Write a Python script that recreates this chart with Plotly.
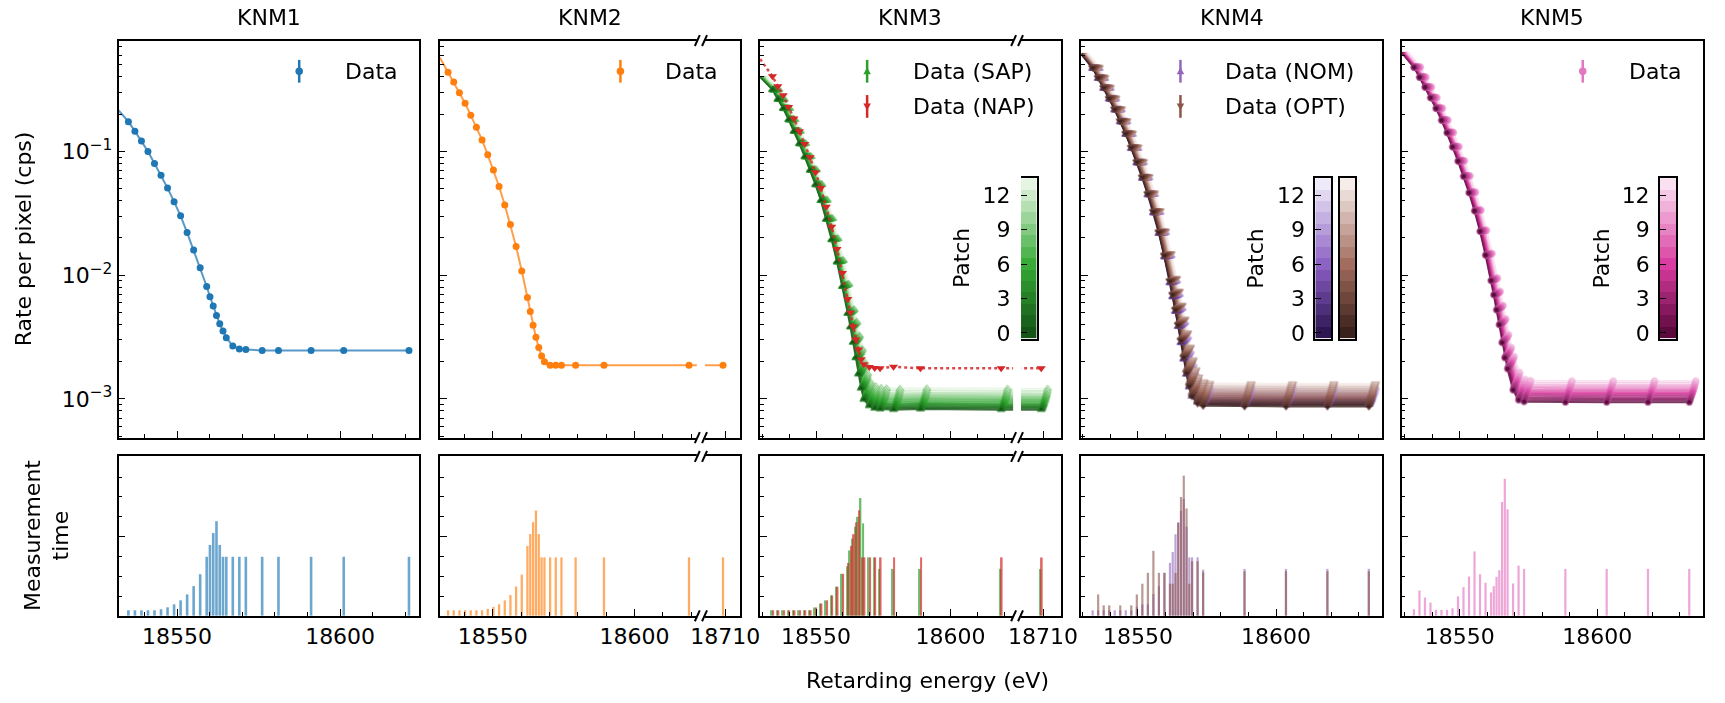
import plotly.graph_objects as go

W, H = 1725, 703
FONT = "DejaVu Sans"

# ------------------------------------------------------------------ data
# KNM1
knm1_x = [18535.1, 18537.1, 18539.1, 18541.1, 18543.1, 18545.1, 18547.1, 18549.1, 18551.1,
          18553.1, 18555.1, 18557.1, 18559.1, 18560.1, 18561.1, 18562.1, 18563.1, 18564.1,
          18565.1, 18567.1, 18569.1, 18571.1, 18576.1, 18581.1, 18591.1, 18601.1, 18621.1]
knm1_rate = [0.174, 0.146, 0.1217, 0.100, 0.0801, 0.0643, 0.0506, 0.0393, 0.0302, 0.0221,
             0.0160, 0.0115, 0.00811, 0.0067, 0.00565, 0.00472, 0.00405, 0.00354, 0.00313,
             0.00268, 0.00254, 0.00251, 0.00247, 0.00247, 0.00247, 0.00247, 0.00247]
knm1_edge = [18532.1, 0.215]
knm1_time = [0.28, 0.28, 0.28, 0.28, 0.28, 0.33, 0.43, 0.58, 0.78, 1.08, 1.5, 2.1, 2.98, 3.58,
             4.18, 4.78, 3.58, 2.98, 2.98, 2.98, 2.98, 2.98, 2.98, 2.98, 2.98, 2.98, 2.98]

# KNM2
knm2_x = [18534.2, 18536.2, 18538.2, 18540.2, 18542.2, 18544.2, 18546.2, 18548.2, 18550.2,
          18552.2, 18554.2, 18556.2, 18558.2, 18560.2, 18562.2, 18563.2, 18564.2, 18565.2,
          18566.2, 18567.2, 18568.2, 18570.2, 18572.2, 18574.2, 18579.2, 18589.2, 18619.2, 18709.2]
knm2_rate = [0.436, 0.365, 0.298, 0.245, 0.196, 0.157, 0.124, 0.094, 0.0709, 0.0521, 0.037,
             0.0257, 0.0171, 0.0108, 0.00662, 0.00509, 0.00395, 0.00315, 0.00261, 0.00222,
             0.0020, 0.00187, 0.00187, 0.00187, 0.00187, 0.00187, 0.00187, 0.00187]
knm2_edge = [18531.3, 0.575]
knm2_time = [0.28, 0.28, 0.28, 0.28, 0.28, 0.28, 0.28, 0.35, 0.45, 0.58, 0.78, 1.05, 1.48, 2.08,
             3.53, 4.13, 4.73, 5.32, 4.13, 2.95, 2.95, 2.95, 2.95, 2.95, 2.95, 2.95, 2.95, 2.95]

# Patch-wise spectra (KNM3 SAP, KNM4, KNM5): each of the 14 patches is the common
# background-free signal plus its own background, drawn at its own energy offset.
patch_shift_ev = [0.0, 0.18, 0.37, 0.55, 0.74, 0.92, 1.11, 1.29, 1.48, 1.66, 1.85, 2.03, 2.22, 2.40]

# KNM3
knm3_x = [18533.8, 18535.8, 18537.8, 18539.8, 18541.8, 18543.8, 18545.8, 18547.8, 18549.8,
          18551.8, 18553.8, 18555.8, 18557.8, 18559.8, 18561.8, 18562.8, 18563.8, 18564.8,
          18565.8, 18566.8, 18567.8, 18569.8, 18571.8, 18573.8, 18578.8, 18588.8, 18618.8, 18709.3]
knm3_sap_signal = [0.315, 0.264, 0.222, 0.180, 0.145, 0.115, 0.090, 0.070, 0.0532, 0.0394,
                   0.0276, 0.0186, 0.0120, 0.0073, 0.0041, 0.0030, 0.00205, 0.00133, 0.00077,
                   0.0004, 0.00017, 0.00006, 0.00002, 0.00001, 0.0, 0.00001, 0.0, 0.0]
knm3_sap_edge = [18529.2, 0.40]
knm3_sap_bkg = [0.00082, 0.00084, 0.00086, 0.00088, 0.00090, 0.00092, 0.00095, 0.00098,
                0.00101, 0.00104, 0.00107, 0.00111, 0.00116, 0.00121]
knm3_nap_rate = [0.405, 0.337, 0.284, 0.229, 0.185, 0.146, 0.115, 0.090, 0.0679, 0.0508,
                 0.0358, 0.0246, 0.0163, 0.0104, 0.00642, 0.00499, 0.00386, 0.00302, 0.00251,
                 0.00209, 0.00191, 0.00181, 0.00178, 0.00177, 0.00182, 0.00177, 0.00177, 0.00177]
knm3_nap_edge = [18529.2, 0.558]
knm3_sap_time = [0.28, 0.28, 0.28, 0.28, 0.28, 0.28, 0.28, 0.28, 0.42, 0.62, 0.78, 1.03, 1.47,
                 2.12, 2.5, 3.3, 3.9, 4.5, 5.0, 5.95, 4.67, 2.95, 2.95, 2.37, 2.37, 2.37, 2.37, 2.37]
knm3_nap_time = [0.28, 0.28, 0.28, 0.28, 0.28, 0.28, 0.28, 0.28, 0.42, 0.62, 0.78, 1.03, 1.47,
                 2.12, 2.67, 3.53, 4.12, 4.72, 5.33, 2.95, 2.95, 2.95, 2.95, 2.95, 2.95, 2.95, 2.95, 2.95]

# KNM4 (NOM and OPT)
knm4_x = [18533.6, 18535.6, 18537.6, 18539.6, 18541.6, 18543.6, 18545.6, 18547.6, 18549.6,
          18551.6, 18553.6, 18555.6, 18557.6, 18559.6, 18561.6, 18562.6, 18563.6, 18564.6,
          18565.6, 18566.6, 18567.6, 18568.6, 18569.6, 18571.6, 18573.6, 18588.6, 18603.6,
          18618.6, 18633.6]
knm4_nom_signal = [0.469, 0.389, 0.324, 0.265, 0.216, 0.173, 0.137, 0.105, 0.0801, 0.0601,
                   0.0439, 0.0311, 0.0209, 0.0132, 0.0078, 0.0058, 0.0042, 0.00295, 0.00195,
                   0.0012, 0.00068, 0.00035, 0.00015, 0.00004, 0.00001, 0.0, 0.0, 0.0, 0.0]
knm4_opt_signal = [0.475, 0.395, 0.328, 0.268, 0.219, 0.175, 0.139, 0.107, 0.0815, 0.0612,
                   0.0447, 0.0318, 0.0214, 0.0136, 0.0081, 0.0061, 0.0044, 0.0031, 0.0021,
                   0.0013, 0.00075, 0.0004, 0.00018, 0.00005, 0.00001, 0.0, 0.0, 0.0, 0.0]
knm4_nom_edge = [18529.5, 0.61]
knm4_opt_edge = [18529.5, 0.62]
knm4_nom_bkg = [0.00090, 0.00092, 0.00094, 0.00096, 0.00098, 0.00100, 0.00102, 0.00105,
                0.00108, 0.00111, 0.00114, 0.00117, 0.00121, 0.00125]
knm4_opt_bkg = [0.00087, 0.00090, 0.00093, 0.00096, 0.00099, 0.00102, 0.00105, 0.00109,
                0.00113, 0.00117, 0.00121, 0.00125, 0.00129, 0.00133]
knm4_nom_time = [0.28, 0.28, 0.28, 0.28, 0.28, 0.28, 0.28, 0.28, 0.45, 0.58, 0.58, 1.1, 1.5,
                 2.17, 2.67, 3.22, 4.12, 4.72, 5.3, 5.9, 4.5, 2.95, 2.95, 2.95, 2.33, 2.37, 2.37,
                 2.37, 2.37]
knm4_opt_time = [0.0, 1.08, 0.53, 0.53, 0.0, 0.53, 0.0, 0.53, 1.08, 1.62, 2.17, 3.28, 2.17,
                 2.17, 1.62, 1.62, 2.17, 4.7, 6.0, 7.08, 5.42, 1.62, 2.75, 2.75, 2.2, 2.25, 2.25,
                 2.25, 2.25]

# KNM5
knm5_x = [18533.4, 18535.4, 18537.4, 18539.4, 18541.4, 18543.4, 18545.4, 18547.4, 18549.4,
          18551.4, 18553.4, 18555.4, 18557.4, 18559.4, 18561.4, 18562.4, 18563.4, 18564.4,
          18565.4, 18566.4, 18567.4, 18569.4, 18571.4, 18573.4, 18588.4, 18603.4, 18618.4, 18633.4]
knm5_signal = [0.478, 0.397, 0.330, 0.271, 0.222, 0.178, 0.141, 0.108, 0.0827, 0.0621, 0.0455,
               0.0322, 0.0217, 0.0136, 0.0081, 0.0060, 0.0043, 0.00304, 0.00191, 0.00121,
               0.00081, 0.00024, 0.00004, 0.00001, 0.0, 0.0, 0.0, 0.0]
knm5_edge = [18528.9, 0.63]
knm5_bkg = [0.00094, 0.00097, 0.00100, 0.00103, 0.00106, 0.00109, 0.00112, 0.00115, 0.00118,
            0.00122, 0.00126, 0.00130, 0.00135, 0.00140]
knm5_time = [0.33, 1.28, 0.92, 0.67, 0.3, 0.3, 0.3, 0.38, 0.98, 1.45, 1.98, 3.25, 2.1, 1.67,
             1.18, 1.5, 1.97, 2.3, 5.75, 6.92, 5.38, 1.63, 2.53, 2.37, 2.37, 2.37, 2.37, 2.37]

titles = ["KNM1", "KNM2", "KNM3", "KNM4", "KNM5"]
major_ticks = [18550, 18600]
break_tick = 18710
rate_ticks = [1e-3, 1e-2, 1e-1]
rate_ticktext = ["10<sup>\u22123</sup>", "10<sup>\u22122</sup>", "10<sup>\u22121</sup>"]
patch_ticks = [0, 3, 6, 9, 12]

# ------------------------------------------------------------------ style / layout helpers
C = dict(blue="#1f77b4", orange="#ff7f0e", green="#2ca02c", red="#d62728",
         purple="#9467bd", brown="#8c564b", pink="#e377c2")


def hx(c):
    c = c.lstrip("#")
    return [int(c[i:i + 2], 16) for i in (0, 2, 4)]


def mix(c1, c2, t):
    a, b = hx(c1), hx(c2)
    return "#" + "".join("%02x" % round(a[k] + (b[k] - a[k]) * t) for k in range(3))


def patch_colors(dark, mid, light, n=14):
    out = []
    for i in range(n):
        t = i / (n - 1)
        out.append(mix(dark, mid, t / 0.45) if t < 0.45 else mix(mid, light, (t - 0.45) / 0.55))
    return out


CM_GREEN = patch_colors("#155417", "#35a935", "#e6f5e2")
CM_PURPLE = patch_colors("#2e1653", "#8b5fc4", "#efeaf7")
CM_BROWN = patch_colors("#3a211b", "#a06a5c", "#f6ece9")
CM_PINK = patch_colors("#5c0a3d", "#d93a9f", "#fae0f1")


def fx(p):
    return p / W


def fy(p):
    return 1 - p / H


cols = [(120, 424), (445, 749), (769, 1073), (1094, 1398), (1418, 1723)]
TOP = (41, 442)
BOT = (461, 622)
xranges = [[18532.1, 18624.2], [18531.3, 18637.3], [18529.2, 18640.9],
           [18529.5, 18638.3], [18528.9, 18638.4]]
# broken axes: shift of the far point and gap in pixels
breaks = {2: dict(shift=78.0, gap=(705, 713.3)), 3: dict(shift=75.6, gap=(1025, 1033))}


def cx(col, xs):
    if col in breaks:
        d = breaks[col]["shift"]
        return [x - d if x > 18660 else x for x in xs]
    return list(xs)


def aid(n):
    return "" if n == 1 else str(n)


fig = go.Figure()
LINE_W = 1.6


def add_line(col, xs, ys, color, width=2.0, dash="solid", opacity=0.75):
    fig.add_trace(go.Scatter(x=cx(col, xs), y=ys, mode="lines",
                             line=dict(color=color, width=width, dash=dash), opacity=opacity,
                             xaxis="x" + aid(col), yaxis="y" + aid(col), hoverinfo="skip"))


def add_marks(col, xs, ys, color, symbol, size=7, edge=None, opacity=1.0):
    fig.add_trace(go.Scatter(x=cx(col, xs), y=ys, mode="markers",
                             marker=dict(color=color, symbol=symbol, size=size,
                                         line=dict(color=edge or color, width=1 if edge else 0)),
                             opacity=opacity, xaxis="x" + aid(col), yaxis="y" + aid(col)))


def add_bars(col, xs, ys, color, width=0.8, offset=None, opacity=0.65):
    kw = dict(offset=offset) if offset is not None else {}
    fig.add_trace(go.Bar(x=cx(col, xs), y=ys, width=width, marker=dict(color=color, line=dict(width=0)),
                         opacity=opacity, xaxis="x" + aid(col + 5), yaxis="y" + aid(col + 5), **kw))


# ---------------- KNM1 / KNM2
add_line(1, [knm1_edge[0]] + knm1_x, [knm1_edge[1]] + knm1_rate, C["blue"])
add_marks(1, knm1_x, knm1_rate, C["blue"], "circle")
add_bars(1, knm1_x, knm1_time, C["blue"])

add_line(2, [knm2_edge[0]] + knm2_x, [knm2_edge[1]] + knm2_rate, C["orange"])
add_marks(2, knm2_x, knm2_rate, C["orange"], "circle")
add_bars(2, knm2_x, knm2_time, C["orange"])


# ---------------- multi-patch panels
def patches(xs, signal, edge, bkgs):
    out = []
    for i, b in enumerate(bkgs):
        d = patch_shift_ev[i]
        out.append(dict(x=[x + d for x in xs], y=[s + b for s in signal],
                        lx=[edge[0] + d] + [x + d for x in xs], ly=[edge[1] + b] + [s + b for s in signal]))
    return out


def add_patch_lines(col, pts, cmap):
    for i, p in enumerate(pts):          # dark first, light on top
        add_line(col, p["lx"], p["ly"], cmap[i], width=2.0, opacity=0.8)


def add_patch_marks(col, pts, cmap, base, symbol, size=6):
    for i in reversed(range(len(pts))):   # light first, dark on top
        add_marks(col, pts[i]["x"], pts[i]["y"], cmap[i], symbol, size=size,
                  edge=mix(cmap[i], base, 0.6), opacity=0.9)


p3 = patches(knm3_x, knm3_sap_signal, knm3_sap_edge, knm3_sap_bkg)
add_patch_lines(3, p3, CM_GREEN)
add_patch_marks(3, p3, CM_GREEN, C["green"], "triangle-up", size=7)
add_line(3, [knm3_nap_edge[0]] + knm3_x, [knm3_nap_edge[1]] + knm3_nap_rate, C["red"],
         width=2.5, dash="dot", opacity=0.85)
add_marks(3, knm3_x, knm3_nap_rate, C["red"], "triangle-down", size=8)
add_bars(3, knm3_x, knm3_sap_time, C["green"], width=0.6, offset=-0.55, opacity=0.7)
add_bars(3, knm3_x, knm3_nap_time, C["red"], width=0.6, offset=-0.05, opacity=0.7)

p4n = patches(knm4_x, knm4_nom_signal, knm4_nom_edge, knm4_nom_bkg)
p4o = patches(knm4_x, knm4_opt_signal, knm4_opt_edge, knm4_opt_bkg)
add_patch_lines(4, p4n, CM_PURPLE)
add_patch_lines(4, p4o, CM_BROWN)
add_patch_marks(4, p4n, CM_PURPLE, C["purple"], "triangle-up", size=7)
add_patch_marks(4, p4o, CM_BROWN, C["brown"], "triangle-down", size=7)
add_bars(4, knm4_x, knm4_nom_time, C["purple"], opacity=0.6)
add_bars(4, knm4_x, knm4_opt_time, C["brown"], opacity=0.6)

p5 = patches(knm5_x, knm5_signal, knm5_edge, knm5_bkg)
add_patch_lines(5, p5, CM_PINK)
add_patch_marks(5, p5, CM_PINK, C["pink"], "circle", size=6)
add_bars(5, knm5_x, knm5_time, C["pink"])

# ---------------- patch colour bars (heatmaps in inset axes)
cbars = [  # (axis number, x px range, colours, show labels)
    (11, (1032.7, 1048.7), CM_GREEN, True),
    (12, (1330.7, 1346.7), CM_PURPLE, True),
    (13, (1355.7, 1371.3), CM_BROWN, False),
    (14, (1679.3, 1696.0), CM_PINK, True),
]
CB_Y = (180, 342)
npatch = len(patch_shift_ev)
for n, _, cmap, _ in cbars:
    scale = []
    for i, c in enumerate(cmap):
        scale += [[i / npatch, c], [(i + 1) / npatch, c]]
    fig.add_trace(go.Heatmap(z=[[i] for i in range(npatch)], x=[0], y=list(range(npatch)),
                             zmin=-0.5, zmax=npatch - 0.5, colorscale=scale, showscale=False,
                             xaxis="x" + aid(n), yaxis="y" + aid(n), hoverinfo="skip"))

# ------------------------------------------------------------------ axes
lay = dict(width=W, height=H, margin=dict(l=0, r=0, t=0, b=0), paper_bgcolor="white",
           plot_bgcolor="white", showlegend=False, barmode="overlay",
           font=dict(family=FONT, size=22, color="black"))

log_minor = [k * 10 ** e for e in (-4, -3, -2, -1) for k in range(2, 10)]
common = dict(showline=True, mirror=True, linecolor="black", linewidth=LINE_W, showgrid=False,
              zeroline=False, ticks="inside", tickcolor="black", tickwidth=1.4, ticklen=7)

for c in range(1, 6):
    x0, x1 = cols[c - 1]
    rng = xranges[c - 1]
    tv = list(major_ticks)
    tt = [str(v) for v in major_ticks]
    if c in breaks:
        tv.append(break_tick - breaks[c]["shift"])
        tt.append(str(break_tick))
        minor_v = [v for v in range(18530, 18630, 10) if v not in major_ticks]
    else:
        minor_v = [v for v in range(18530, 18640, 10) if v not in major_ticks]
    minor_v = [v for v in minor_v if rng[0] < v < rng[1]]
    for row, (ya, yb), n in ((0, TOP, c), (1, BOT, c + 5)):
        lay["xaxis" + aid(n)] = dict(common, domain=[fx(x0), fx(x1)], range=rng, anchor="y" + aid(n),
                                     tickmode="array", tickvals=tv, ticktext=tt,
                                     showticklabels=(row == 1), tickfont=dict(size=22),
                                     minor=dict(ticks="inside", ticklen=4, tickwidth=1.2,
                                                tickcolor="black", tickmode="array",
                                                tickvals=minor_v, showgrid=False))
    lay["yaxis" + aid(c)] = dict(common, type="log", domain=[fy(TOP[1]), fy(TOP[0])],
                                 range=[-3.312, -0.104], anchor="x" + aid(c),
                                 tickmode="array", tickvals=rate_ticks, ticktext=rate_ticktext,
                                 showticklabels=(c == 1), tickfont=dict(size=22),
                                 minor=dict(ticks="inside", ticklen=4, tickwidth=1.2,
                                            tickcolor="black", tickmode="array",
                                            tickvals=log_minor, showgrid=False))
    lay["yaxis" + aid(c + 5)] = dict(common, domain=[fy(BOT[1]), fy(BOT[0])], range=[0, 8.05],
                                     anchor="x" + aid(c + 5), tickmode="array", tickvals=[0, 4, 8],
                                     showticklabels=False,
                                     minor=dict(ticks="inside", ticklen=4, tickwidth=1.2,
                                                tickcolor="black", tickmode="array",
                                                tickvals=[1, 2, 3, 5, 6, 7], showgrid=False))

for n, (a, b), _, labels in cbars:
    lay["xaxis" + aid(n)] = dict(domain=[fx(a), fx(b)], range=[-0.5, 0.5], anchor="y" + aid(n),
                                 showline=True, mirror=True, linecolor="black", linewidth=LINE_W,
                                 showgrid=False, zeroline=False, showticklabels=False, ticks="")
    lay["yaxis" + aid(n)] = dict(domain=[fy(CB_Y[1]), fy(CB_Y[0])], range=[-0.5, npatch - 0.5],
                                 anchor="x" + aid(n), showline=True, mirror=True, linecolor="black",
                                 linewidth=LINE_W, showgrid=False, zeroline=False,
                                 tickmode="array", tickvals=patch_ticks,
                                 ticks="inside" if labels else "", ticklen=6, tickwidth=1.4,
                                 tickcolor="black", showticklabels=labels, ticklabelstandoff=4,
                                 tickfont=dict(size=22))

# ------------------------------------------------------------------ annotations
ann = []
for c in range(1, 6):
    x0, x1 = cols[c - 1]
    ann.append(dict(text=titles[c - 1], x=fx((x0 + x1) / 2), y=fy(18), xref="paper", yref="paper",
                    showarrow=False, xanchor="center", yanchor="middle", font=dict(size=22)))
ann.append(dict(text="Rate per pixel (cps)", x=fx(24), y=fy(241), xref="paper", yref="paper",
                showarrow=False, textangle=-90, xanchor="center", yanchor="middle",
                font=dict(size=22)))
ann.append(dict(text="Measurement<br>time", x=fx(47), y=fy(541), xref="paper", yref="paper",
                showarrow=False, textangle=-90, xanchor="center", yanchor="middle",
                font=dict(size=22)))
ann.append(dict(text="Retarding energy (eV)", x=fx(938), y=fy(687), xref="paper", yref="paper",
                showarrow=False, xanchor="center", yanchor="middle", font=dict(size=22)))
for px in (973, 1270, 1620):
    ann.append(dict(text="Patch", x=fx(px), y=fy(261), xref="paper", yref="paper",
                    showarrow=False, textangle=-90, xanchor="center", yanchor="middle",
                    font=dict(size=22)))

# ---------------- hand-made legends (errorbar icon + label)
legend_items = [  # (icon x px, text x px, y px, colour, marker, label)
    (302.7, 346.7, 72, C["blue"], "o", "Data"),
    (627.7, 670.7, 72, C["orange"], "o", "Data"),
    (877.3, 921.7, 72, C["green"], "^", "Data (SAP)"),
    (877.3, 921.7, 107.5, C["red"], "v", "Data (NAP)"),
    (1194.3, 1237.7, 72, C["purple"], "^", "Data (NOM)"),
    (1194.3, 1237.7, 107.5, C["brown"], "v", "Data (OPT)"),
    (1601.3, 1646.0, 72, C["pink"], "o", "Data"),
]
shapes = []
for ix, tx, yc, col, mk, label in legend_items:
    shapes.append(dict(type="line", xref="paper", yref="paper", x0=fx(ix), x1=fx(ix),
                       y0=fy(yc - 11.5), y1=fy(yc + 11.5), line=dict(color=col, width=2.5)))
    r = 3.8
    if mk == "o":
        shapes.append(dict(type="circle", xref="paper", yref="paper", x0=fx(ix - r), x1=fx(ix + r),
                           y0=fy(yc + r), y1=fy(yc - r), fillcolor=col, line=dict(width=0)))
    else:
        s = -1 if mk == "^" else 1
        path = "M %f,%f L %f,%f L %f,%f Z" % (fx(ix - r), fy(yc - s * r * 0.8), fx(ix + r),
                                              fy(yc - s * r * 0.8), fx(ix), fy(yc + s * r * 1.1))
        shapes.append(dict(type="path", xref="paper", yref="paper", path=path, fillcolor=col,
                           line=dict(width=0)))
    ann.append(dict(text=label, x=fx(tx), y=fy(yc), xref="paper", yref="paper", showarrow=False,
                    xanchor="left", yanchor="middle", font=dict(size=22)))

# ---------------- broken-axis gaps and "//" marks
for c, b in breaks.items():
    g0, g1 = b["gap"]
    for (ya, yb) in (TOP, BOT):
        shapes.append(dict(type="rect", xref="paper", yref="paper", x0=fx(g0), x1=fx(g1),
                           y0=fy(yb + 4), y1=fy(ya - 4), fillcolor="white",
                           line=dict(width=0), layer="above"))
        for xc in (g0 + 0.5, g1 - 0.5):
            for yy in (ya, yb):
                shapes.append(dict(type="line", xref="paper", yref="paper",
                                   x0=fx(xc - 2.5), x1=fx(xc + 2.5), y0=fy(yy + 5.5), y1=fy(yy - 5.5),
                                   line=dict(color="black", width=2), layer="above"))

lay["annotations"] = ann
lay["shapes"] = shapes
fig.update_layout(**lay)
fig.write_html("out.html")
